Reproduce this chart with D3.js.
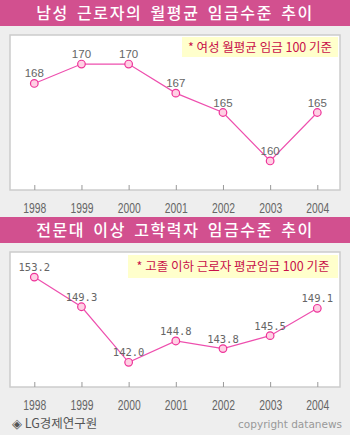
<!DOCTYPE html>
<html>
<head>
<meta charset="utf-8">
<script src="https://cdn.jsdelivr.net/npm/d3@7"></script>
<style>
  html, body { margin: 0; padding: 0; background: #eeeeee; }
  svg { display: block; }
</style>
</head>
<body>
<svg id="chart" width="350" height="435"></svg>
<script>
// Years shared by both panels
const years = ["1998", "1999", "2000", "2001", "2002", "2003", "2004"];

// Male average monthly wage (female average = 100)
const maleWage = [168, 170, 170, 167, 165, 160, 165];

// College-or-above wage (high school or below = 100)
const collegeWage = [153.2, 149.3, 142.0, 144.8, 143.8, 145.5, 149.1];

const titles = ["남성 근로자의 월평균 임금수준 추이", "전문대 이상 고학력자 임금수준 추이"];
const notes = ["* 여성 월평균 임금 100 기준", "* 고졸 이하 근로자 평균임금 100 기준"];

const svg = d3.select("#chart");
const pink = "#d2508f";

const panels = [
  { title: titles[0], note: notes[0], values: maleWage, fmt: d3.format("d"),
    barY: 0, top: 35, bottom: 190, domain: [157, 173], noteX: [182, 338], noteY: [37, 57],
    labelFont: "'Liberation Sans', sans-serif", labelSize: 11.5 },
  { title: titles[1], note: notes[1], values: collegeWage, fmt: d3.format(".1f"),
    barY: 217, top: 252, bottom: 387, domain: [138.75, 156.5], noteX: [128, 338], noteY: [255, 278],
    labelFont: "'DejaVu Sans Mono', monospace", labelSize: 10.5 }
];

const left = 10, right = 340;

const x = d3.scalePoint().domain(years).range([34.3, 317.3]);

panels.forEach(p => {
  // title bar
  svg.append("rect").attr("x", 0).attr("y", p.barY).attr("width", 350).attr("height", 26)
    .attr("fill", pink);
  svg.append("text").attr("x", 175).attr("y", p.barY + 18.5)
    .attr("text-anchor", "middle").attr("fill", "#fff")
    .attr("font-family", "'Noto Sans CJK KR', sans-serif").attr("font-size", 16)
    .attr("font-weight", 500)
    .attr("letter-spacing", 1.6).attr("word-spacing", 3)
    .text(p.title);

  // plot frame
  svg.append("rect").attr("x", left).attr("y", p.top)
    .attr("width", right - left).attr("height", p.bottom - p.top)
    .attr("fill", "#fff").attr("stroke", "#cccccc").attr("stroke-width", 1.5);

  // note box
  svg.append("rect").attr("x", p.noteX[0]).attr("y", p.noteY[0])
    .attr("width", p.noteX[1] - p.noteX[0]).attr("height", p.noteY[1] - p.noteY[0])
    .attr("fill", "#ffffcc");
  svg.append("text").attr("x", (p.noteX[0] + p.noteX[1]) / 2).attr("y", (p.noteY[0] + p.noteY[1]) / 2 + 4.5)
    .attr("text-anchor", "middle").attr("fill", "#c8104a")
    .attr("font-family", "'Noto Sans CJK KR', sans-serif").attr("font-size", 12.5)
    .text(p.note);

  const y = d3.scaleLinear().domain(p.domain).range([p.bottom, p.top]);

  // x axis: ticks inside the frame, labels below
  const axis = svg.append("g").attr("transform", `translate(0,${p.bottom})`)
    .call(d3.axisBottom(x).tickSizeInner(-5).tickSizeOuter(0).tickPadding(13));
  axis.select(".domain").remove();
  axis.selectAll(".tick line").attr("stroke", "#999");
  axis.selectAll(".tick text").attr("fill", "#666")
    .attr("font-family", "'Liberation Sans', sans-serif")
    .attr("font-size", 14)
    .attr("textLength", 23).attr("lengthAdjust", "spacingAndGlyphs");

  const pts = years.map((yr, i) => ({ yr, v: p.values[i] }));

  svg.append("path").datum(pts)
    .attr("fill", "none").attr("stroke", "#ee4fae").attr("stroke-width", 1.2)
    .attr("d", d3.line().x(d => x(d.yr)).y(d => y(d.v)));

  svg.append("g").selectAll("circle").data(pts).join("circle")
    .attr("cx", d => x(d.yr)).attr("cy", d => y(d.v)).attr("r", 3.8)
    .attr("fill", "#ffd0e4").attr("stroke", "#ee3399").attr("stroke-width", 1.2);

  svg.append("g").selectAll("text").data(pts).join("text")
    .attr("x", d => x(d.yr)).attr("y", d => y(d.v) - 6)
    .attr("text-anchor", "middle").attr("fill", "#666")
    .attr("font-family", p.labelFont).attr("font-size", p.labelSize)
    .text(d => p.fmt(d.v));
});

// footer
svg.append("text").attr("x", 12).attr("y", 428).attr("fill", "#555")
  .attr("font-family", "'Noto Sans CJK KR', sans-serif").attr("font-size", 12.5)
  .text("◈ LG경제연구원");
svg.append("text").attr("x", 342).attr("y", 428).attr("text-anchor", "end").attr("fill", "#999")
  .attr("font-family", "'DejaVu Sans', sans-serif").attr("font-size", 10.5)
  .text("copyright datanews");
</script>
</body>
</html>
